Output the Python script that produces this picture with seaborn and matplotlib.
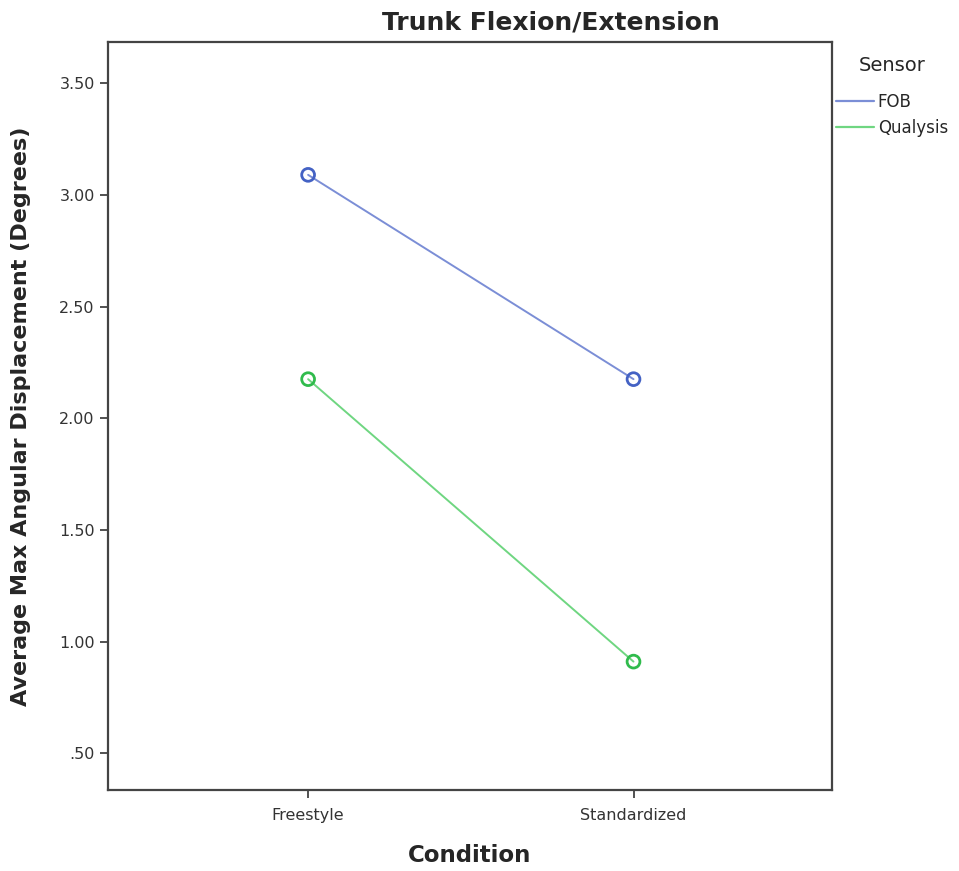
import matplotlib
matplotlib.use("Agg")
import matplotlib.pyplot as plt
import seaborn as sns
import pandas as pd
from matplotlib.lines import Line2D

conditions = ["Freestyle", "Standardized"]
sensors = ["FOB", "Qualysis"]
fob_values = [3.09, 2.175]
qualysis_values = [2.175, 0.91]
y_ticks = [0.5, 1.0, 1.5, 2.0, 2.5, 3.0, 3.5]
y_tick_labels = [".50", "1.00", "1.50", "2.00", "2.50", "3.00", "3.50"]

df = pd.DataFrame({
    "Condition": conditions * 2,
    "Sensor": ["FOB"] * 2 + ["Qualysis"] * 2,
    "Value": fob_values + qualysis_values,
})

sns.set_style("white")
plt.rcParams['font.family'] = ['DejaVu Sans']

line_colors = {"FOB": "#7b8ed6", "Qualysis": "#6fd681"}
marker_colors = {"FOB": "#4462c4", "Qualysis": "#30bb4c"}

fig = plt.figure(figsize=(9.59, 8.71), dpi=100)
ax = fig.add_axes([108/959, 1-790/871, (832-108)/959, (790-42)/871])

sns.lineplot(data=df, x="Condition", y="Value", hue="Sensor", palette=line_colors,
             ax=ax, linewidth=1.4, legend=False, sort=False)
for s in sensors:
    sub = df[df["Sensor"] == s]
    ax.scatter(sub["Condition"], sub["Value"], s=85, facecolors="none",
               edgecolors=marker_colors[s], linewidths=2.0, zorder=5)

ax.set_xlim(-0.615, 1.61)
ax.set_ylim(0.335, 3.685)
ax.set_yticks(y_ticks)
ax.set_yticklabels(y_tick_labels)
ax.tick_params(axis="both", direction="out", length=6, width=1.2, colors="#333333",
               labelsize=11.5, labelcolor="#333333", left=True, bottom=True)
ax.tick_params(axis="x", pad=7)
for sp in ax.spines.values():
    sp.set_color("#444444")
    sp.set_linewidth(1.6)

ax.set_xlabel("Condition", fontsize=16.5, fontweight="semibold", labelpad=15)
ax.set_ylabel("Average Max Angular Displacement (Degrees)", fontsize=16,
              fontweight="semibold", labelpad=20)

fig.text(551/959, 1-22/871, "Trunk Flexion/Extension", ha="center", va="center",
         fontsize=18, fontweight="bold")

handles = [Line2D([0], [0], color=line_colors[s], lw=1.6) for s in sensors]
leg = fig.legend(handles, sensors, title="Sensor", loc="upper left",
                 bbox_to_anchor=(836/959, 1-56/871), frameon=False, fontsize=12,
                 title_fontsize=14, handlelength=2.3, handletextpad=0.2,
                 labelspacing=0.45, borderaxespad=0, borderpad=0)
leg._legend_box.sep = 13

fig.savefig("out.png", dpi=100)
